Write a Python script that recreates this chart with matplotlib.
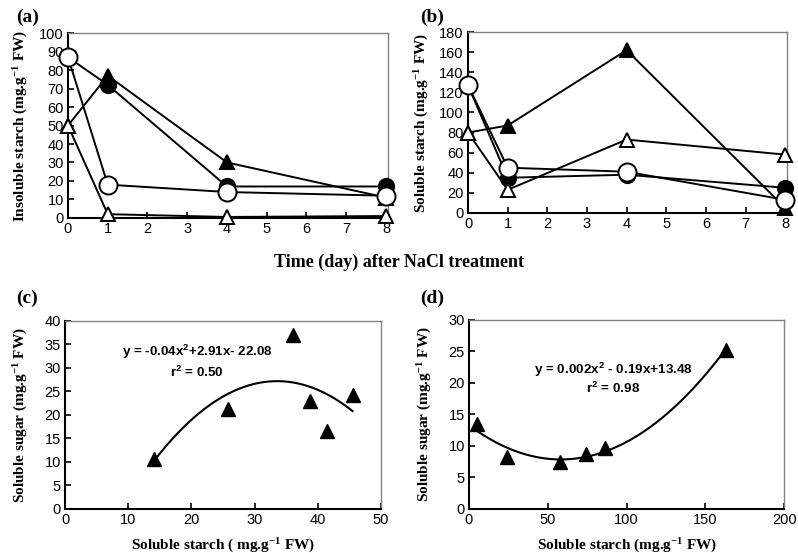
import numpy as np
import matplotlib
matplotlib.use("Agg")
import matplotlib.pyplot as plt

# ---------------- data ----------------
days = [0, 1, 4, 8]

# (a) insoluble starch
a_filled_circle = [87, 72, 17, 17]
a_open_circle = [87, 18, 14, 12]
a_filled_tri = [50, 77, 30, 11]
a_open_tri = [50, 2, 0.5, 1]

# (b) soluble starch
b_filled_circle = [127, 35, 38, 25]
b_open_circle = [127, 45, 41, 13]
b_filled_tri = [80, 87, 162, 5]
b_open_tri = [80, 23, 73, 58]

# (c) soluble sugar vs soluble starch
c_x = [14, 25.8, 36, 38.8, 41.5, 45.5]
c_y = [10.7, 21.3, 37, 23, 16.5, 24.2]
c_eq = "y = -0.04x$^{2}$+2.91x- 22.08"
c_r2 = "r$^{2}$ = 0.50"

# (d)
d_x = [5, 24, 58, 74, 86, 163]
d_y = [13.5, 8.2, 7.4, 8.7, 9.7, 25.2]
d_eq = "y = 0.002x$^{2}$ - 0.19x+13.48"
d_r2 = "r$^{2}$ = 0.98"

serif = "Liberation Serif"
sans = "Liberation Sans"
plt.rcParams['font.family'] = sans
plt.rcParams['mathtext.fontset'] = 'custom'
plt.rcParams['mathtext.rm'] = 'Liberation Sans:bold'
plt.rcParams['mathtext.it'] = 'Liberation Sans:bold'
plt.rcParams['mathtext.bf'] = 'Liberation Sans:bold'

fig = plt.figure(figsize=(7.98, 5.53), dpi=100)

def style(ax):
    ax.spines['left'].set_color('black')
    ax.spines['bottom'].set_color('black')
    ax.spines['left'].set_linewidth(1.5)
    ax.spines['bottom'].set_linewidth(1.5)
    for s in ['top', 'right']:
        ax.spines[s].set_color('#808080')
        ax.spines[s].set_linewidth(1.0)
    ax.tick_params(direction='in', length=4, width=1.2, labelsize=10.5,
                   top=False, right=False, pad=3)
    for lab in ax.get_xticklabels() + ax.get_yticklabels():
        lab.set_fontfamily(sans)

lw = 1.4
def series(ax, x, y, marker, filled, ms):
    ax.plot(x, y, color='black', lw=lw, marker=marker, ms=ms,
            mfc='black' if filled else 'white', mec='black', mew=1.4,
            clip_on=False, zorder=3)

ylab_kw = dict(fontfamily=serif, fontweight='bold', fontsize=11)
sup = "$^{\\mathregular{-1}}$"

# (a)
axa = fig.add_axes([0.0852, 0.606, 0.401, 0.334])
series(axa, days, a_filled_tri, '^', True, 10)
series(axa, days, a_filled_circle, 'o', True, 11)
series(axa, days, a_open_tri, '^', False, 10)
series(axa, days, a_open_circle, 'o', False, 13)
axa.set_xlim(0, 8.05)
axa.set_ylim(0, 100)
axa.set_xticks(range(0, 9))
axa.set_yticks(range(0, 101, 10))
axa.set_ylabel("Insoluble starch (mg.g" + sup + " FW)", **ylab_kw, labelpad=7)
style(axa)
fig.text(0.02, 0.968, "(a)", fontfamily=serif, fontweight='bold', fontsize=14, va='center')

# (b)
axb = fig.add_axes([0.5865, 0.615, 0.400, 0.327])
series(axb, days, b_filled_tri, '^', True, 10)
series(axb, days, b_filled_circle, 'o', True, 11)
series(axb, days, b_open_tri, '^', False, 10)
series(axb, days, b_open_circle, 'o', False, 13)
axb.set_xlim(0, 8.05)
axb.set_ylim(0, 180)
axb.set_xticks(range(0, 9))
axb.set_yticks(range(0, 181, 20))
axb.set_ylabel("Soluble starch (mg.g" + sup + " FW)", **ylab_kw, labelpad=7)
style(axb)
fig.text(0.527, 0.968, "(b)", fontfamily=serif, fontweight='bold', fontsize=14, va='center')

fig.text(0.5, 0.526, "Time (day) after NaCl treatment", ha='center', va='center',
         fontfamily=serif, fontweight='bold', fontsize=13)

# (c)
axc = fig.add_axes([0.0815, 0.0796, 0.396, 0.340])
cc = np.polyfit(c_x, c_y, 2)
xs = np.linspace(min(c_x), max(c_x), 200)
axc.plot(xs, np.polyval(cc, xs), color='black', lw=1.5, zorder=2)
axc.plot(c_x, c_y, linestyle='none', marker='^', ms=10, color='black', zorder=3)
axc.set_xlim(0, 50)
axc.set_ylim(0, 40)
axc.set_xticks(range(0, 51, 10))
axc.set_yticks(range(0, 41, 5))
axc.set_ylabel("Soluble sugar (mg.g" + sup + " FW)", **ylab_kw, labelpad=11)
axc.text(20.9, 33.4, c_eq, ha='center', va='center', fontweight='bold', fontsize=9.6)
axc.text(20.9, 29.1, c_r2, ha='center', va='center', fontweight='bold', fontsize=9.6)
style(axc)
fig.text(0.0815 + 0.396 / 2, 0.016, "Soluble starch ( mg.g" + sup + " FW)",
         ha='center', va='center', **ylab_kw)
fig.text(0.02, 0.461, "(c)", fontfamily=serif, fontweight='bold', fontsize=14, va='center')

# (d)
axd = fig.add_axes([0.5877, 0.0796, 0.395, 0.342])
dc = np.polyfit(d_x, d_y, 2)
xs = np.linspace(min(d_x), max(d_x), 200)
axd.plot(xs, np.polyval(dc, xs), color='black', lw=1.5, zorder=2)
axd.plot(d_x, d_y, linestyle='none', marker='^', ms=10, color='black', zorder=3)
axd.set_xlim(0, 200)
axd.set_ylim(0, 30)
axd.set_xticks(range(0, 201, 50))
axd.set_yticks(range(0, 31, 5))
axd.set_ylabel("Soluble sugar (mg.g" + sup + " FW)", **ylab_kw, labelpad=11)
axd.text(91.4, 22.1, d_eq, ha='center', va='center', fontweight='bold', fontsize=9.7)
axd.text(91.4, 19.2, d_r2, ha='center', va='center', fontweight='bold', fontsize=9.7)
style(axd)
fig.text(0.5877 + 0.395 / 2, 0.016, "Soluble starch (mg.g" + sup + " FW)",
         ha='center', va='center', **ylab_kw)
fig.text(0.527, 0.461, "(d)", fontfamily=serif, fontweight='bold', fontsize=14, va='center')

fig.savefig("out.png", dpi=100)
